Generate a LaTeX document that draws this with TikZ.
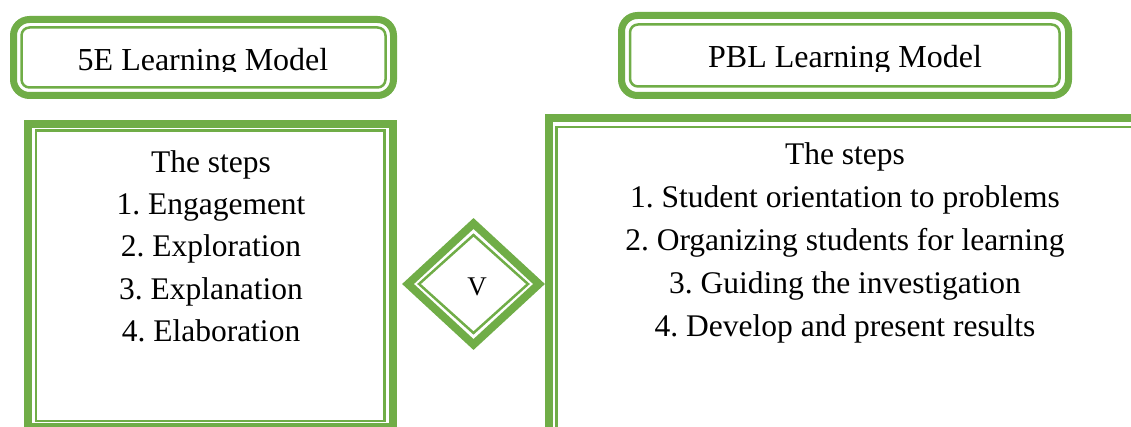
\documentclass[tikz,border=0pt]{standalone}
\usepackage{fontspec}
\setmainfont{Liberation Serif}
\usetikzlibrary{shapes.geometric, calc}
\definecolor{stepgreen}{HTML}{70AD47}
\frenchspacing
\tikzstyle{titlebox} = [draw=stepgreen, line width=7pt, rounded corners=16pt, rectangle, inner sep=0pt, outer sep=0pt]
\tikzstyle{stepsbox} = [draw=stepgreen, line width=8pt, rectangle, inner sep=0pt, outer sep=0pt]
\tikzstyle{thinline} = [draw=stepgreen, line width=2.5pt]
\tikzstyle{titletext} = [anchor=base, inner sep=0pt, font=\fontsize{32}{38}\selectfont]
\tikzstyle{steptext} = [anchor=base, inner sep=0pt, font=\fontsize{31.5}{42}\selectfont]

\begin{document}
\begin{tikzpicture}[x=1pt, y=-1pt]
  \clip (0,0) rectangle (1131,427);
  \fill[white] (0,0) rectangle (1131,427);

  \node (m5e) [titlebox, minimum width=380, minimum height=76] at (203.5,57.5) {};
  \draw[thinline, rounded corners=8pt] ($(m5e.north west)+(8,8)$) rectangle ($(m5e.south east)+(-8,-8)$);
  \node (mpbl) [titlebox, minimum width=447, minimum height=80] at (845,55.5) {};
  \draw[thinline, rounded corners=8pt] ($(mpbl.north west)+(8.5,9)$) rectangle ($(mpbl.south east)+(-9,-9)$);
  \begin{scope}
    \clip (0,0) rectangle (1131,72);
    \node (m5etxt) [titletext] at (203,70.5) {5E Learning Model};
    \node (mpbltxt) [titletext] at (845,67.5) {PBL Learning Model};
  \end{scope}

  \node (s5e) [stepsbox, minimum width=364.5, minimum height=303] at (210.25,275.5) {};
  \draw[thinline] ($(s5e.north west)+(8,6.5)$) rectangle ($(s5e.south east)+(-8,-6)$);
  \node (spbl) [stepsbox, minimum width=600, minimum height=330] at (848.5,283.5) {};
  \draw[thinline] ($(spbl.north west)+(8,8.5)$) rectangle ($(spbl.south east)+(-8,-8)$);

  \foreach \t [count=\i] in {The steps, 1. Engagement, 2. Exploration, 3. Explanation, 4. Elaboration}
    \node (l\i) [steptext] at (211,131+42*\i) {\t};
  \foreach \t [count=\i] in {The steps, 1. Student orientation to problems, 2. Organizing students for learning, 3. Guiding the investigation, 4. Develop and present results}
    \node (r\i) [steptext] at (845,122+42.8*\i) {\t};

  \node (vs) [diamond, draw=stepgreen, fill=white, line width=8pt, minimum width=131, minimum height=121, inner sep=0pt, outer sep=0pt] at (473.5,284) {};
  \node (vsin) [diamond, draw=stepgreen, line width=2.5pt, minimum width=110, minimum height=99, inner sep=0pt] at (473.5,284) {};
  \node (vtxt) [anchor=base, inner sep=0pt, font=\fontsize{27}{30}\selectfont] at (477,295) {V};
\end{tikzpicture}
\end{document}
